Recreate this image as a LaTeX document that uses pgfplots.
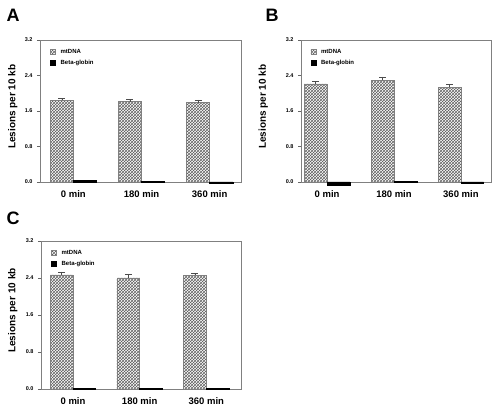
\documentclass[border=0pt]{standalone}
\usepackage{pgfplots}
\pgfplotsset{compat=1.18}
\usetikzlibrary{patterns}
\usepackage{fontspec}
\setmainfont{Liberation Sans}
\pgfplotsset{
  panel/.style={
    scale only axis, ybar, bar width=0.34,
    ymin=0, ymax=3.2, ytick={0,0.8,1.6,2.4,3.2},
    /pgf/number format/assume math mode=true,
    yticklabel style={/pgf/number format/fixed, /pgf/number format/fixed zerofill, /pgf/number format/precision=1,
      font=\bfseries\fontsize{5.5}{6}\selectfont, xshift=-1pt},
    xtick={0,1,2}, xticklabels={0 min,180 min,360 min},
    xticklabel style={font=\bfseries\fontsize{9.5}{11}\selectfont, yshift=-2pt},
    x tick style={draw=none},
    axis line style={gray}, y tick style={gray!80!black},
    tick align=outside, major tick length=3pt, ytick pos=left,
    clip=false,
    ylabel={Lesions per 10 kb},
    ylabel style={font=\bfseries\fontsize{10}{12}\selectfont},
    legend style={draw=none, fill=none, font=\bfseries\fontsize{6}{7}\selectfont,
      at={(0.045,0.96)}, anchor=north west, row sep=1.5pt, inner sep=1pt,
      legend cell align=left,
      /tikz/every odd column/.append style={column sep=3pt}},
    legend image code/.code={\draw[##1] (0pt,-2.5pt) rectangle (5pt,2.5pt);},
  },
  mt/.style={draw=gray, pattern=crosshatch, pattern color=gray!75!black, bar shift=-0.17,
    error bars/.cd, y dir=plus, y explicit,
    error bar style={black!70, line width=0.5pt},
    error mark options={rotate=90, mark size=3.5pt, black!70, line width=0.5pt}},
  bg/.style={draw=black, fill=black, bar shift=0.17},
}
\begin{document}
\begin{tikzpicture}
\path[use as bounding box] (0,0) rectangle (496pt,409pt);
\node[anchor=base west, font=\bfseries\fontsize{18}{18}\selectfont] at (3pt,387pt) {A};
\node[anchor=base west, font=\bfseries\fontsize{18}{18}\selectfont] at (262pt,387pt) {B};
\node[anchor=base west, font=\bfseries\fontsize{18}{18}\selectfont] at (3pt,184pt) {C};

% Panel A
\begin{axis}[panel, at={(40pt,227pt)}, anchor=south west, width=201pt, height=142pt,
  xmin=-0.49, xmax=2.46,
  ylabel style={at={(axis description cs:-0.095,0.53)}, anchor=south}]
\addplot[mt] coordinates {(0,1.84) +- (0,0.05) (1,1.81) +- (0,0.06) (2,1.79) +- (0,0.06)};
\addplot[bg] coordinates {(0,0.03) (1,0.02) (2,-0.02)};
\legend{mtDNA,Beta-globin}
\end{axis}

% Panel B
\begin{axis}[panel, at={(301pt,227pt)}, anchor=south west, width=190pt, height=142pt,
  xmin=-0.39, xmax=2.45,
  ylabel style={at={(axis description cs:-0.155,0.53)}, anchor=south}]
\addplot[mt] coordinates {(0,2.21) +- (0,0.06) (1,2.29) +- (0,0.08) (2,2.13) +- (0,0.07)};
\addplot[bg] coordinates {(0,-0.08) (1,0.02) (2,-0.02)};
\legend{mtDNA,Beta-globin}
\end{axis}

% Panel C
\begin{axis}[panel, at={(41pt,20pt)}, anchor=south west, width=200pt, height=148pt,
  xmin=-0.48, xmax=2.52,
  ylabel style={at={(axis description cs:-0.1,0.53)}, anchor=south}]
\addplot[mt] coordinates {(0,2.47) +- (0,0.06) (1,2.40) +- (0,0.09) (2,2.46) +- (0,0.05)};
\addplot[bg] coordinates {(0,0.02) (1,0.01) (2,0.02)};
\legend{mtDNA,Beta-globin}
\end{axis}
\end{tikzpicture}
\end{document}
